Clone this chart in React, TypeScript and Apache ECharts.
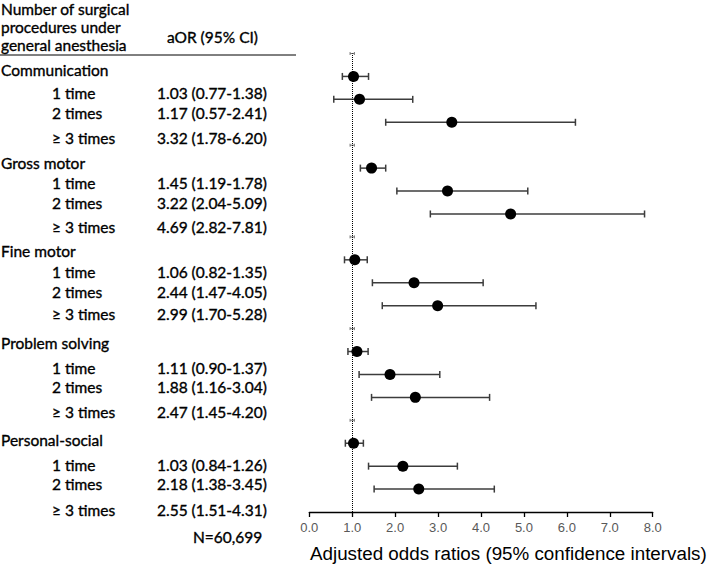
import React, { useEffect, useRef } from "react";
import * as echarts from "echarts";

// ---- data ----
const groups = ["Communication", "Gross motor", "Fine motor", "Problem solving", "Personal-social"];
const levels = ["1 time", "2 times", "\u2265 3 times"];
const aor = [
  [1.03, 1.17, 3.32],
  [1.45, 3.22, 4.69],
  [1.06, 2.44, 2.99],
  [1.11, 1.88, 2.47],
  [1.03, 2.18, 2.55],
];
const lower = [
  [0.77, 0.57, 1.78],
  [1.19, 2.04, 2.82],
  [0.82, 1.47, 1.7],
  [0.9, 1.16, 1.45],
  [0.84, 1.38, 1.51],
];
const upper = [
  [1.38, 2.41, 6.2],
  [1.78, 5.09, 7.81],
  [1.35, 4.05, 5.28],
  [1.37, 3.04, 4.2],
  [1.26, 3.45, 4.31],
];
const refValue = 1.0;
const xMin = 0;
const xMax = 8;
const xInterval = 1;
const sampleNote = "N=60,699";
const headerCol1 = ["Number of surgical", "procedures under", "general anesthesia"];
const headerCol2 = "aOR (95% CI)";
const axisTitle = "Adjusted odds ratios (95% confidence intervals)";

// ---- layout (pixel positions of left-hand table text) ----
const groupLabelY = [70, 163, 251, 343, 440];
const levelLabelY = [
  [93, 113, 138],
  [183, 203, 227],
  [272, 292, 314],
  [368, 387, 412],
  [465, 484, 510],
];
const headerLineY = [8.5, 27, 45];

const ROWS_PER_GROUP = levels.length + 1;
const TOTAL_ROWS = groups.length * ROWS_PER_GROUP;

export default function App() {
  const ref = useRef<HTMLDivElement>(null);

  useEffect(() => {
    if (!ref.current) return;
    const chart = echarts.init(ref.current, undefined, { renderer: "svg" });

    const points: number[][] = [];
    const bars: number[][] = [];
    const refMarks: number[][] = [];
    groups.forEach((g, gi) => {
      const headRow = TOTAL_ROWS - gi * ROWS_PER_GROUP;
      refMarks.push([refValue - 0.05, refValue + 0.05, headRow]);
      levels.forEach((l, li) => {
        const row = headRow - 1 - li;
        points.push([aor[gi][li], row]);
        bars.push([lower[gi][li], upper[gi][li], row]);
      });
    });

    const tableFont = "15.5px Lato, 'Open Sans', sans-serif";
    const tStyle = (text: string) => ({
      text,
      font: tableFont,
      fill: "#000",
      stroke: "#000",
      lineWidth: 0.35,
      textAlign: "left",
      textVerticalAlign: "middle",
    });
    const texts: any[] = [];
    headerCol1.forEach((t, i) => texts.push({ type: "text", x: 1, y: headerLineY[i], style: tStyle(t) }));
    texts.push({ type: "text", x: 167, y: 37, style: tStyle(headerCol2) });
    texts.push({ type: "line", shape: { x1: 0, y1: 55, x2: 296, y2: 55 }, style: { stroke: "#000", lineWidth: 1 } });
    groups.forEach((g, gi) => {
      texts.push({ type: "text", x: 1, y: groupLabelY[gi], style: tStyle(g) });
      levels.forEach((l, li) => {
        texts.push({ type: "text", x: 52, y: levelLabelY[gi][li], style: tStyle(l) });
        const v = `${aor[gi][li].toFixed(2)} (${lower[gi][li].toFixed(2)}-${upper[gi][li].toFixed(2)})`;
        texts.push({ type: "text", x: 157, y: levelLabelY[gi][li], style: tStyle(v) });
      });
    });
    texts.push({ type: "text", x: 193, y: 537, style: tStyle(sampleNote) });
    texts.push({
      type: "text",
      x: 310,
      y: 553,
      style: {
        text: axisTitle,
        font: "18.8px 'Liberation Sans', Arial, sans-serif",
        fill: "#000",
        textAlign: "left",
        textVerticalAlign: "middle",
      },
    });

    const barRender = (color: string, lw: number, cap: number) => (params: any, api: any) => {
      const p1 = api.coord([api.value(0), api.value(2)]);
      const p2 = api.coord([api.value(1), api.value(2)]);
      const style = { stroke: color, lineWidth: lw };
      return {
        type: "group",
        children: [
          { type: "line", shape: { x1: p1[0], y1: p1[1], x2: p2[0], y2: p2[1] }, style },
          { type: "line", shape: { x1: p1[0], y1: p1[1] - cap, x2: p1[0], y2: p1[1] + cap }, style },
          { type: "line", shape: { x1: p2[0], y1: p2[1] - cap, x2: p2[0], y2: p2[1] + cap }, style },
        ],
      };
    };

    chart.setOption({
      animation: false,
      backgroundColor: "#fff",
      grid: { left: 309.3, right: 56.3, top: 53.5, bottom: 57 },
      xAxis: {
        type: "value",
        min: xMin,
        max: xMax,
        interval: xInterval,
        splitLine: { show: false },
        axisLine: { show: true, lineStyle: { color: "#000", width: 1.3 } },
        axisTick: { show: true, length: 5, lineStyle: { color: "#000", width: 1.3 } },
        axisLabel: {
          formatter: (v: number) => v.toFixed(1),
          color: "#595959",
          fontSize: 13,
          fontFamily: "'Liberation Sans', Arial, sans-serif",
          margin: 9,
        },
      },
      yAxis: {
        type: "value",
        min: 0,
        max: TOTAL_ROWS,
        show: false,
      },
      series: [
        {
          type: "custom",
          renderItem: barRender("#777", 1, 1.5),
          data: refMarks,
          z: 2,
        },
        {
          type: "custom",
          renderItem: barRender("#3c3c3c", 1.5, 3.5),
          data: bars,
          z: 3,
        },
        {
          type: "scatter",
          data: points,
          symbolSize: 11,
          itemStyle: { color: "#000", opacity: 1 },
          z: 5,
          markLine: {
            silent: true,
            symbol: "none",
            label: { show: false },
            lineStyle: { type: "dotted", color: "#000", width: 1 },
            data: [{ xAxis: refValue }],
          },
        },
      ],
      graphic: texts,
    });

    return () => chart.dispose();
  }, []);

  return <div ref={ref} style={{ position: "fixed", left: 0, top: 0, width: 709, height: 569 }} />;
}
